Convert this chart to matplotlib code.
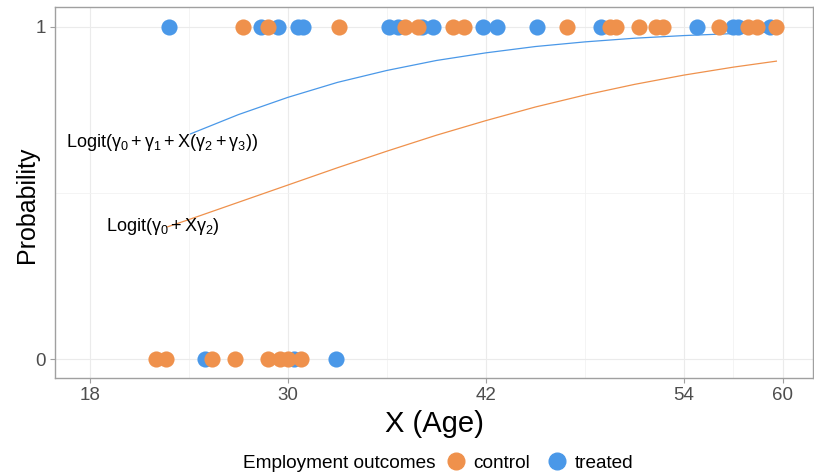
import numpy as np
import matplotlib
matplotlib.use("Agg")
import matplotlib.pyplot as plt
from matplotlib.lines import Line2D

plt.rcParams['font.family'] = ['Liberation Sans', 'DejaVu Sans']
plt.rcParams['mathtext.fontset'] = 'custom'
plt.rcParams['mathtext.rm'] = 'Liberation Sans'
plt.rcParams['mathtext.it'] = 'Liberation Sans'

control_age = [27.3, 28.8, 33.1, 37.1, 37.9, 40.0, 40.7, 46.9, 49.5, 49.9, 51.3,
               52.3, 52.7, 56.1, 57.9, 58.4, 59.6,
               22.0, 22.6, 25.4, 26.8, 28.8, 29.5, 30.0, 30.8]
control_y = [1] * 17 + [0] * 8
treated_age = [22.8, 28.4, 29.4, 30.6, 30.9, 36.1, 36.7, 38.1, 38.8, 41.8, 42.7,
               45.1, 49.0, 54.8, 57.0, 57.3, 59.2,
               25.0, 30.4, 32.9]
treated_y = [1] * 17 + [0] * 3

# fitted probability curves
treated_fit_age = [24.1, 27, 30, 33, 36, 39, 42, 45, 48, 51, 54, 57, 59.7]
treated_fit_p = [0.678, 0.736, 0.788, 0.833, 0.869, 0.899, 0.922, 0.941, 0.955,
                 0.966, 0.974, 0.980, 0.985]
control_fit_age = [22.7, 24, 27, 30, 33, 36, 39, 42, 45, 48, 51, 54, 57, 59.6]
control_fit_p = [0.398, 0.420, 0.472, 0.524, 0.576, 0.626, 0.674, 0.718, 0.759,
                 0.795, 0.827, 0.855, 0.879, 0.897]

x_ticks = [18, 30, 42, 54, 60]
x_minor = [24, 36, 48, 57]
y_ticks = [0, 1]

orange = '#EF914C'
blue = '#4A98E8'

fig = plt.figure(figsize=(8.14, 4.73), dpi=100)
ax = fig.add_axes([0.0676, 0.2008, 0.9314, 0.7844])

ax.plot(treated_fit_age, treated_fit_p, color=blue, lw=0.9, zorder=2)
ax.plot(control_fit_age, control_fit_p, color=orange, lw=0.9, zorder=2)
ax.scatter(treated_age, treated_y, s=135, color=blue, linewidths=0, zorder=3)
ax.scatter(control_age, control_y, s=135, color=orange, linewidths=0, zorder=3)

ax.text(22.4, 0.651, r'$\mathregular{Logit(γ_0+γ_1+X(γ_2+γ_3))}$', ha='center',
        va='center', fontsize=13, zorder=4)
ax.text(22.4, 0.40, r'$\mathregular{Logit(γ_0+Xγ_2)}$', ha='center',
        va='center', fontsize=13, zorder=4)

ax.set_xlim(15.89, 61.83)
ax.set_ylim(-0.057, 1.06)
ax.set_xticks(x_ticks)
ax.set_xticks(x_minor, minor=True)
ax.set_yticks(y_ticks)
ax.set_yticks([0.5], minor=True)
ax.grid(True, which='major', color='#EBEBEB', lw=0.8)
ax.grid(True, which='minor', color='#F2F2F2', lw=0.6)
ax.set_axisbelow(True)
ax.tick_params(which='major', length=3.5, color='#A0A0A0', labelsize=13.5,
               labelcolor='#4D4D4D', pad=3)
ax.tick_params(which='minor', length=0)
for sp in ax.spines.values():
    sp.set_color('#A0A0A0')
    sp.set_linewidth(1.0)

ax.set_xlabel('X (Age)', fontsize=21, labelpad=4)
ax.set_ylabel('Probability', fontsize=18)
ax.yaxis.set_label_coords(-0.021, 0.466)

fig.text(243 / 814, 1 - 463 / 473, 'Employment outcomes', fontsize=13.7,
         ha='left', va='center')
handles = [Line2D([], [], marker='o', ls='', color=orange, markersize=12),
           Line2D([], [], marker='o', ls='', color=blue, markersize=12)]
fig.legend(handles, ['control', 'treated'], ncol=2, frameon=False, fontsize=13.7,
           loc='center left', bbox_to_anchor=(446 / 814, 1 - 463 / 473),
           handlelength=1.0, handletextpad=0.45, columnspacing=0.9,
           borderpad=0, borderaxespad=0)

fig.savefig('out.png', dpi=100)
